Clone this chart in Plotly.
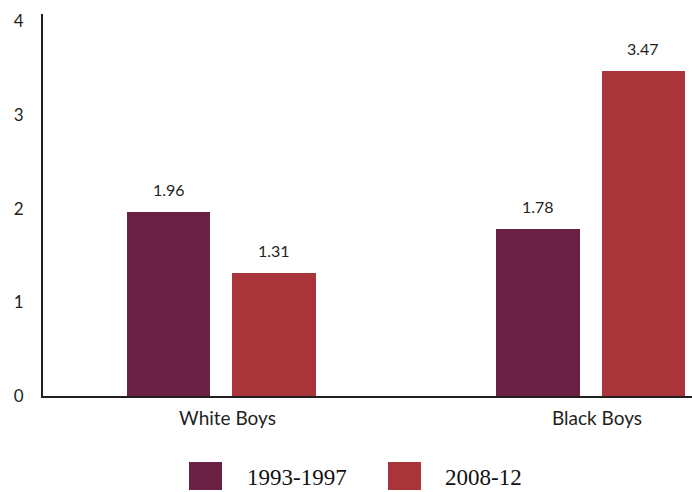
import plotly.graph_objects as go

# Average rate by group and period
groups = ["White Boys", "Black Boys"]
periods = ["1993-1997", "2008-12"]
values_1993_1997 = [1.96, 1.78]
values_2008_12 = [1.31, 3.47]
y_ticks = [0, 1, 2, 3, 4]

colors = ["#6a2143", "#a93439"]
series = [values_1993_1997, values_2008_12]
offsets = [-0.256, 0.029]
bar_width = 0.226
positions = list(range(len(groups)))

fig = go.Figure()
for name, vals, col, off in zip(periods, series, colors, offsets):
    fig.add_trace(go.Bar(
        x=positions, y=vals, name=name,
        marker=dict(color=col, line=dict(width=0)),
        offset=off, width=bar_width, showlegend=False,
    ))
    for xi, v in zip(positions, vals):
        fig.add_annotation(
            x=xi + off + bar_width / 2, y=v, text=f"{v:.2f}",
            showarrow=False, yanchor="middle", yshift=23,
            font=dict(family="Lato", size=16, color="#231f20"),
        )

# Legend drawn as large swatches below the plot
plot_left, plot_w = 43, 649
plot_bottom, plot_h = 396, 382
def px_x(p):
    return (p - plot_left) / plot_w
def px_y(p):
    return (plot_bottom - p) / plot_h

swatches = [(189, 245), (388, 443)]
for (sx, tx), name, col in zip(swatches, periods, colors):
    fig.add_shape(type="rect", xref="paper", yref="paper",
                  x0=px_x(sx), x1=px_x(sx + 33), y0=px_y(462), y1=px_y(490),
                  fillcolor=col, line=dict(width=0))
    fig.add_annotation(xref="paper", yref="paper", x=px_x(tx), y=px_y(477),
                       text=name, showarrow=False, xanchor="left", yanchor="middle",
                       font=dict(family="Liberation Serif", size=23, color="#111111"))

fig.update_layout(
    width=692, height=492,
    margin=dict(l=43, r=0, t=14, b=96),
    plot_bgcolor="white", paper_bgcolor="white",
    bargap=0,
    xaxis=dict(
        range=[-(221.5 - 43) / 369.5, 1 + (692 - 591) / 369.5],
        tickvals=positions, ticktext=groups,
        showline=True, linewidth=2, linecolor="#231f20",
        showgrid=False, zeroline=False, ticks="",
        ticklabelshift=6, ticklabelstandoff=4,
        tickfont=dict(family="Lato", size=19, color="#231f20"),
    ),
    yaxis=dict(
        range=[0, 4.08], tickvals=y_ticks,
        showline=True, linewidth=2, linecolor="#231f20",
        showgrid=False, zeroline=False, ticks="",
        ticklabelstandoff=14,
        tickfont=dict(family="Lato", size=17, color="#231f20"),
    ),
)

fig.write_html("out.html")
